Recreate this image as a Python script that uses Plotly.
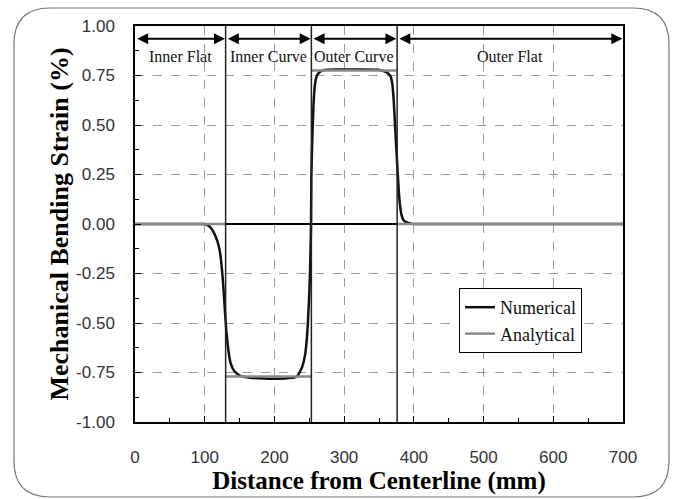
import plotly.graph_objects as go

# ---------------- data ----------------
num_x = [0, 50, 100, 103, 106, 110, 114, 118, 121, 123, 125, 127, 129, 131, 134, 137, 141, 146,
         152, 165, 185, 200, 215, 228, 233, 236, 240, 244, 246.5, 248, 250, 251, 252, 252.5,
         253, 254.5, 256, 258, 261, 266, 272, 290, 320, 350, 354, 360, 363, 366, 369, 371,
         373, 375, 377, 378.5, 380, 382, 385, 390, 396, 400, 500, 600, 700]
num_y = [0, 0, 0, -0.003, -0.01, -0.025, -0.05, -0.085, -0.125, -0.17, -0.24, -0.33, -0.44, -0.54,
         -0.64, -0.7, -0.735, -0.755, -0.768, -0.776, -0.78, -0.782, -0.78, -0.776, -0.768,
         -0.75, -0.72, -0.66, -0.58, -0.5, -0.35, -0.25, -0.1, 0.0,
         0.25, 0.45, 0.6, 0.7, 0.75, 0.77, 0.778, 0.78, 0.78, 0.779, 0.775, 0.768, 0.76, 0.75,
         0.71, 0.63, 0.5, 0.37, 0.25, 0.16, 0.1, 0.05, 0.02, 0.008, 0.002, 0, 0, 0, 0]

ana_x = [0, 130, None, 130, 253, None, 253, 376, None, 376, 700]
ana_y = [0, 0, None, -0.77, -0.77, None, 0.775, 0.775, None, 0, 0]

region_bounds = [0, 130, 253, 376, 700]
region_names = ["Inner Flat", "Inner Curve", "Outer Curve", "Outer Flat"]
arrow_level = 0.935
label_level = 0.845

x_ticks = [0, 100, 200, 300, 400, 500, 600, 700]
y_ticks = [-1.0, -0.75, -0.5, -0.25, 0.0, 0.25, 0.5, 0.75, 1.0]
y_ticklabels = ["-1.00", "-0.75", "-0.50", "-0.25", "0.00", "0.25", "0.50", "0.75", "1.00"]

# ---------------- layout constants ----------------
W, H = 675, 499
L, R, T, B = 135, 52, 26, 77
pw, ph = W - L - R, H - T - B

def px(xp):
    return (xp - L) / pw

def py(yp):
    return (H - B - yp) / ph

serif = "Liberation Serif, Times New Roman, serif"
sans = "Liberation Sans, Arial, sans-serif"

fig = go.Figure()
fig.add_trace(go.Scatter(x=num_x, y=num_y, mode="lines", name="Numerical",
                         line=dict(color="#111111", width=2.5, shape="spline", smoothing=0.3)))
fig.add_trace(go.Scatter(x=ana_x, y=ana_y, mode="lines", name="Analytical",
                         line=dict(color="#8a8a8a", width=2.5), connectgaps=False))

shapes = []
# region boundary lines
for b in region_bounds[1:-1]:
    shapes.append(dict(type="line", xref="x", yref="paper", x0=b, x1=b, y0=0, y1=1,
                       line=dict(color="#222222", width=1.5), layer="above"))

# rounded outer frame
x0, x1, y0, y1, r = 14, 669, 8, 497, 36
rx, ry = r / pw, r / ph
X0, X1, Y0, Y1 = px(x0), px(x1), py(y1), py(y0)
path = (f"M {X0+rx},{Y1} L {X1-rx},{Y1} Q {X1},{Y1} {X1},{Y1-ry} "
        f"L {X1},{Y0+ry} Q {X1},{Y0} {X1-rx},{Y0} "
        f"L {X0+rx},{Y0} Q {X0},{Y0} {X0},{Y0+ry} "
        f"L {X0},{Y1-ry} Q {X0},{Y1} {X0+rx},{Y1} Z")
shapes.append(dict(type="path", xref="paper", yref="paper", path=path,
                   line=dict(color="#777777", width=1.2), layer="below"))

annotations = []
for i, name in enumerate(region_names):
    a, b = region_bounds[i], region_bounds[i + 1]
    annotations.append(dict(x=b - 1, y=arrow_level, ax=a + 1, ay=arrow_level,
                            xref="x", yref="y", axref="x", ayref="y", text="",
                            showarrow=True, arrowhead=2, startarrowhead=2,
                            arrowside="end+start", arrowsize=1.1, startarrowsize=1.1,
                            arrowwidth=2, arrowcolor="#000000", standoff=0, startstandoff=0))
    annotations.append(dict(x=(a + b) / 2, y=label_level, xref="x", yref="y", text=name,
                            showarrow=False, font=dict(family=serif, size=16, color="#111111")))

fig.update_layout(
    width=W, height=H,
    margin=dict(l=L, r=R, t=T, b=B, autoexpand=False),
    paper_bgcolor="white", plot_bgcolor="white",
    shapes=shapes, annotations=annotations,
    showlegend=True,
    legend=dict(x=px(459), y=py(288), xanchor="left", yanchor="top",
                bgcolor="white", bordercolor="#000000", borderwidth=1,
                font=dict(family=serif, size=18, color="#111111"),
                tracegroupgap=0, itemwidth=30),
    xaxis=dict(range=[0, 700], tickvals=x_ticks, ticks="inside", ticklen=6, tickwidth=1.2,
               tickcolor="#000000",
               minor=dict(dtick=50, ticks="inside", ticklen=4, tickcolor="#000000", showgrid=False),
               showline=True, linecolor="#000000", linewidth=1.5, mirror=True,
               showgrid=True, gridcolor="#9a9a9a", griddash="dash", gridwidth=1,
               zeroline=False, ticklabelstandoff=19,
               tickfont=dict(family=sans, size=17, color="#333333"),
               title=dict(text="Distance from Centerline (mm)", standoff=4,
                          font=dict(family=serif, size=25, color="#000000", weight="bold"))),
    yaxis=dict(range=[-1, 1], tickvals=y_ticks, ticktext=y_ticklabels, ticks="inside",
               ticklen=6, tickwidth=1.2, tickcolor="#000000",
               minor=dict(dtick=0.125, ticks="inside", ticklen=4, tickcolor="#000000", showgrid=False),
               showline=True, linecolor="#000000", linewidth=1.5, mirror=True,
               showgrid=True, gridcolor="#9a9a9a", griddash="dash", gridwidth=1,
               zeroline=True, zerolinecolor="#000000", zerolinewidth=1.5,
               ticklabelstandoff=15,
               tickfont=dict(family=sans, size=17, color="#333333"),
               title=dict(text="Mechanical Bending Strain (%)", standoff=0,
                          font=dict(family=serif, size=26, color="#000000", weight="bold"))),
)

fig.write_html("out.html", config={"displayModeBar": False},
               post_script="document.body.style.margin='0';document.body.style.overflow='hidden';")
